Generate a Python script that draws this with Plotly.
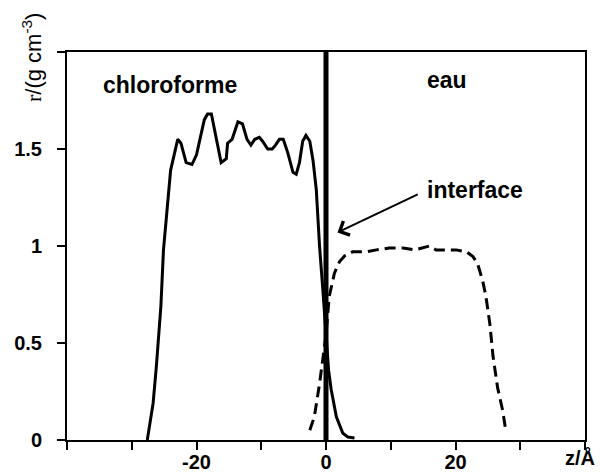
import plotly.graph_objects as go

# Data
chloro_z = [-27.6, -26.7, -26.2, -25.5, -25.1, -24.4, -24.0, -22.9, -22.4, -21.6, -20.7, -20.0,
            -18.8, -18.3, -17.7, -16.2, -15.4, -15.2, -14.5, -13.6, -12.9, -12.2, -11.6, -11.0,
            -10.3, -9.8, -9.0, -8.3, -7.8, -7.2, -6.6, -5.9, -5.1, -4.6, -4.1, -3.6, -3.1, -2.5,
            -2.0, -1.5, -1.0, -0.5, 0.0, 0.4, 0.8, 1.6, 2.6, 3.4, 4.4]
chloro_rho = [0.0, 0.19, 0.38, 0.69, 0.98, 1.22, 1.39, 1.55, 1.53, 1.43, 1.42, 1.47,
              1.65, 1.68, 1.68, 1.43, 1.45, 1.53, 1.55, 1.64, 1.63, 1.55, 1.52, 1.55,
              1.56, 1.54, 1.50, 1.50, 1.52, 1.55, 1.55, 1.48, 1.38, 1.37, 1.43, 1.54, 1.57, 1.54,
              1.44, 1.29, 1.0, 0.78, 0.52, 0.36, 0.26, 0.12, 0.035, 0.015, 0.01]

eau_z = [-2.5, -1.8, -1.0, -0.5, 0.0, 0.5, 1.3, 2.1, 2.9, 4.1, 6.2, 7.8, 9.8, 11.9, 13.7,
         16.0, 17.0, 18.6, 20.1, 21.7, 22.7, 23.4, 24.2, 24.7, 25.3, 25.8, 26.5, 27.3, 27.8]
eau_rho = [0.05, 0.12, 0.29, 0.43, 0.54, 0.74, 0.86, 0.92, 0.95, 0.97, 0.97, 0.98, 0.99, 0.99, 0.98,
           1.0, 0.98, 0.98, 0.98, 0.97, 0.945, 0.91, 0.82, 0.74, 0.60, 0.43, 0.27, 0.15, 0.04]

x_tickvals = [-40, -30, -20, -10, 0, 10, 20, 30, 40]
x_ticktext = [" ", " ", "-20", " ", "0", " ", "20", " ", " "]
y_tickvals = [0, 0.5, 1, 1.5, 2]
y_ticktext = ["0", "0.5", "1", "1.5", " "]

FONT = "Liberation Sans, Arial, sans-serif"

fig = go.Figure()
fig.add_trace(go.Scatter(x=chloro_z, y=chloro_rho, mode="lines",
                         line=dict(color="black", width=3), showlegend=False))
fig.add_trace(go.Scatter(x=eau_z, y=eau_rho, mode="lines",
                         line=dict(color="black", width=3, dash="11px,6px"), showlegend=False))

# interface line at z = 0
fig.add_shape(type="line", xref="x", yref="y", x0=0, x1=0, y0=0, y1=2,
              line=dict(color="black", width=5))

fig.update_xaxes(range=[-40, 40], tickvals=x_tickvals, ticktext=x_ticktext, automargin=False,
                 showgrid=False, zeroline=False, showline=True, linecolor="black", linewidth=2,
                 mirror=True, ticks="outside", ticklen=8, tickwidth=2, tickcolor="black",
                 ticklabelstandoff=-5,
                 tickfont=dict(family=FONT, size=20, color="black", weight="bold"))
fig.update_yaxes(range=[0, 2], tickvals=y_tickvals, ticktext=y_ticktext, automargin=False,
                 showgrid=False, zeroline=False, showline=True, linecolor="black", linewidth=2,
                 mirror=True, ticks="outside", ticklen=8, tickwidth=2, tickcolor="black",
                 ticklabelstandoff=11,
                 tickfont=dict(family=FONT, size=20, color="black", weight="bold"))

annos = [
    dict(text="<b>chloroforme</b>", x=0.199, y=0.915, size=23),
    dict(text="<b>eau</b>", x=0.734, y=0.928, size=23),
    dict(text="<b>interface</b>", x=0.788, y=0.645, size=23),
    dict(text="<b>z/Å</b>", x=0.990, y=-0.045, size=20),
]
for a in annos:
    fig.add_annotation(text=a["text"], xref="paper", yref="paper", x=a["x"], y=a["y"],
                       xanchor="center", yanchor="middle", showarrow=False,
                       font=dict(family=FONT, size=a["size"], color="black"))

fig.add_annotation(text='<span style="font-family:Liberation Serif">r</span>/(g cm<sup>-3</sup>)',
                   xref="paper", yref="paper", x=-0.0676, y=0.987, textangle=-90,
                   xanchor="center", yanchor="middle", showarrow=False,
                   font=dict(family=FONT, size=22, color="black"))

# arrow pointing to interface
fig.add_annotation(x=1.78, y=1.07, ax=14.4, ay=1.27, xref="x", yref="y", axref="x", ayref="y",
                   text="", showarrow=True, arrowhead=4, arrowsize=1.5, arrowwidth=2,
                   arrowcolor="black")

fig.update_layout(width=603, height=475, margin=dict(l=67, r=18, t=52, b=35),
                  plot_bgcolor="white", paper_bgcolor="white")

fig.write_html("out.html", config={"displayModeBar": False},
               post_script="document.body.style.margin='0';document.body.style.overflow='hidden';")
